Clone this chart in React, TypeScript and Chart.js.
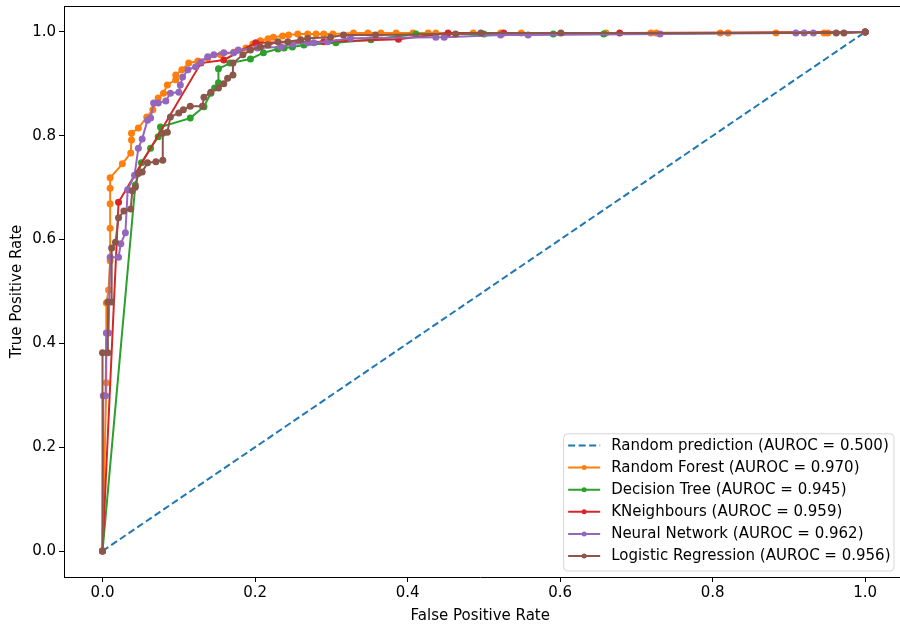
import React, { useEffect, useRef } from "react";
import { Chart, registerables } from "chart.js";

Chart.register(...registerables);

const FONT = "'DejaVu Sans', 'Liberation Sans', sans-serif";
const FONT_SIZE = 15;

// [False Positive Rate, True Positive Rate]
const randomPrediction = [[0, 0], [1, 1]];

const randomForest = [
  [0, 0], [0.005, 0.324], [0.005, 0.478], [0.008, 0.503], [0.010, 0.559], [0.010, 0.622],
  [0.010, 0.669], [0.010, 0.699], [0.010, 0.719], [0.026, 0.746], [0.037, 0.767], [0.038, 0.792],
  [0.038, 0.805], [0.047, 0.815], [0.058, 0.836], [0.066, 0.850], [0.073, 0.873], [0.080, 0.882],
  [0.085, 0.898], [0.096, 0.908], [0.096, 0.917], [0.104, 0.927], [0.113, 0.940], [0.125, 0.944],
  [0.138, 0.950], [0.155, 0.956], [0.172, 0.961], [0.188, 0.969], [0.197, 0.977], [0.207, 0.983],
  [0.217, 0.987], [0.224, 0.990], [0.236, 0.992], [0.244, 0.994], [0.256, 0.996], [0.269, 0.996],
  [0.280, 0.996], [0.290, 0.996], [0.302, 0.996], [0.329, 0.998], [0.348, 0.998], [0.365, 0.998],
  [0.385, 0.998], [0.407, 0.998], [0.427, 0.998], [0.437, 0.998], [0.486, 0.998], [0.522, 0.998],
  [0.549, 0.998], [0.660, 0.998], [0.719, 0.998], [0.726, 0.998], [0.810, 0.998], [0.820, 0.998],
  [0.883, 0.998], [0.946, 0.998], [0.951, 0.998], [1, 1],
];

const decisionTree = [
  [0, 0], [0.043, 0.705], [0.047, 0.728], [0.051, 0.748], [0.063, 0.776], [0.073, 0.798],
  [0.076, 0.817], [0.115, 0.834], [0.133, 0.856], [0.142, 0.882], [0.147, 0.892], [0.152, 0.902],
  [0.152, 0.929], [0.167, 0.940], [0.194, 0.948], [0.211, 0.960], [0.230, 0.967], [0.238, 0.969],
  [0.249, 0.971], [0.264, 0.975], [0.306, 0.979], [0.352, 0.985], [0.411, 0.996], [0.500, 0.996],
  [0.591, 0.996], [0.657, 0.996], [1, 1],
];

const kNeighbours = [
  [0, 0], [0.021, 0.672], [0.129, 0.940], [0.159, 0.946], [0.201, 0.979], [0.290, 0.981],
  [0.388, 0.986], [0.453, 0.998], [0.526, 0.998], [0.678, 0.998], [1, 1],
];

const neuralNetwork = [
  [0, 0], [0.001, 0.299], [0.004, 0.299], [0.005, 0.420], [0.008, 0.420], [0.010, 0.566],
  [0.021, 0.566], [0.024, 0.592], [0.030, 0.613], [0.033, 0.696], [0.042, 0.724], [0.047, 0.776],
  [0.052, 0.794], [0.059, 0.830], [0.063, 0.834], [0.067, 0.863], [0.073, 0.863], [0.083, 0.867],
  [0.089, 0.882], [0.100, 0.884], [0.102, 0.898], [0.105, 0.913], [0.112, 0.927], [0.122, 0.933],
  [0.129, 0.942], [0.138, 0.952], [0.146, 0.956], [0.159, 0.960], [0.172, 0.960], [0.178, 0.965],
  [0.203, 0.969], [0.234, 0.971], [0.249, 0.977], [0.269, 0.979], [0.277, 0.979], [0.295, 0.981],
  [0.325, 0.988], [0.437, 0.990], [0.448, 0.990], [0.522, 0.994], [0.558, 0.994], [0.731, 0.996],
  [0.909, 0.998], [0.920, 0.998], [0.932, 0.998], [1, 1],
];

const logisticRegression = [
  [0, 0], [0, 0.382], [0.007, 0.382], [0.007, 0.480], [0.012, 0.480], [0.012, 0.584],
  [0.017, 0.595], [0.021, 0.642], [0.028, 0.655], [0.037, 0.659], [0.039, 0.694], [0.043, 0.701],
  [0.047, 0.728], [0.052, 0.730], [0.059, 0.748], [0.070, 0.750], [0.079, 0.753], [0.079, 0.805],
  [0.085, 0.807], [0.089, 0.836], [0.100, 0.844], [0.106, 0.850], [0.115, 0.857], [0.131, 0.857],
  [0.133, 0.874], [0.142, 0.884], [0.152, 0.892], [0.159, 0.900], [0.164, 0.911], [0.171, 0.917],
  [0.171, 0.940], [0.184, 0.956], [0.194, 0.965], [0.207, 0.971], [0.217, 0.975], [0.230, 0.981],
  [0.243, 0.981], [0.260, 0.985], [0.269, 0.988], [0.299, 0.990], [0.316, 0.994], [0.358, 0.994],
  [0.463, 0.996], [0.496, 0.998], [0.601, 0.998], [0.962, 0.998], [0.972, 0.998], [1, 1],
];

const seriesLabels = [
  "Random prediction (AUROC = 0.500)",
  "Random Forest (AUROC = 0.970)",
  "Decision Tree (AUROC = 0.945)",
  "KNeighbours (AUROC = 0.959)",
  "Neural Network (AUROC = 0.962)",
  "Logistic Regression (AUROC = 0.956)",
];
const seriesColors = ["#1f77b4", "#ff7f0e", "#2ca02c", "#d62728", "#9467bd", "#8c564b"];
const seriesData = [randomPrediction, randomForest, decisionTree, kNeighbours, neuralNetwork, logisticRegression];

const xTicks = [0, 0.2, 0.4, 0.6, 0.8, 1.0];
const yTicks = [0, 0.2, 0.4, 0.6, 0.8, 1.0];

const legendPlugin = {
  id: "mplLegend",
  afterDraw(chart: any) {
    const ctx = chart.ctx as CanvasRenderingContext2D;
    const area = chart.chartArea;
    ctx.save();
    // top spine
    ctx.strokeStyle = "#000";
    ctx.lineWidth = 1;
    ctx.beginPath();
    ctx.moveTo(area.left, area.top + 0.5);
    ctx.lineTo(chart.width, area.top + 0.5);
    ctx.stroke();
    // extend bottom spine to canvas edge
    ctx.beginPath();
    ctx.moveTo(area.right, area.bottom + 0.5);
    ctx.lineTo(chart.width, area.bottom + 0.5);
    ctx.stroke();

    ctx.font = `${FONT_SIZE}px ${FONT}`;
    let maxW = 0;
    seriesLabels.forEach((t) => { maxW = Math.max(maxW, ctx.measureText(t).width); });
    const rowH = 22.1;
    const w = 48 + maxW + 3;
    const h = 12.2 + rowH * (seriesLabels.length - 1) + 14.5;
    const right = chart.width - 6.5;
    const bottom = area.bottom - 6.5;
    const x0 = right - w;
    const y0 = bottom - h;
    ctx.beginPath();
    (ctx as any).roundRect(x0 + 0.5, y0 + 0.5, w, h, 4);
    ctx.fillStyle = "rgba(255,255,255,0.8)";
    ctx.fill();
    ctx.strokeStyle = "rgba(204,204,204,0.8)";
    ctx.lineWidth = 1;
    ctx.stroke();

    seriesLabels.forEach((t, i) => {
      const cy = y0 + 12.2 + i * rowH;
      ctx.strokeStyle = seriesColors[i];
      ctx.lineWidth = 2;
      ctx.setLineDash(i === 0 ? [7, 3.5] : []);
      ctx.beginPath();
      ctx.moveTo(x0 + 5, cy);
      ctx.lineTo(x0 + 37, cy);
      ctx.stroke();
      ctx.setLineDash([]);
      if (i > 0) {
        ctx.fillStyle = seriesColors[i];
        ctx.beginPath();
        ctx.arc(x0 + 21, cy, 2.5, 0, Math.PI * 2);
        ctx.fill();
      }
      ctx.fillStyle = "#000";
      ctx.textBaseline = "middle";
      ctx.textAlign = "left";
      ctx.fillText(t, x0 + 48, cy + 0.5);
    });
    ctx.restore();
  },
};

export default function App() {
  const ref = useRef<HTMLCanvasElement | null>(null);

  useEffect(() => {
    if (!ref.current) return;
    const datasets = seriesData.map((pts, i) => ({
      label: seriesLabels[i],
      data: pts.map((p) => ({ x: p[0], y: p[1] })),
      borderColor: seriesColors[i],
      backgroundColor: seriesColors[i],
      borderWidth: 2,
      borderDash: i === 0 ? [7, 3.5] : [],
      pointRadius: i === 0 ? 0 : 3.5,
      pointHoverRadius: i === 0 ? 0 : 3.5,
      pointBorderWidth: 0,
      pointBackgroundColor: seriesColors[i],
      tension: 0,
      fill: false,
      order: seriesData.length - i,
    }));

    const tickFont = { family: FONT, size: FONT_SIZE };
    const chart = new Chart(ref.current, {
      type: "line",
      data: { datasets },
      plugins: [legendPlugin],
      options: {
        responsive: false,
        animation: false,
        devicePixelRatio: 1,
        layout: { padding: { top: 6, right: 0, left: 0, bottom: 0 } },
        plugins: { legend: { display: false }, tooltip: { enabled: false } },
        scales: {
          x: {
            type: "linear",
            min: -0.0505,
            max: 1.041,
            afterFit: (s: any) => { s.height = 49; s.paddingLeft = 0; s.paddingRight = 0; },
            afterBuildTicks: (s: any) => { s.ticks = xTicks.map((v) => ({ value: v })); },
            grid: { display: true, drawOnChartArea: false, drawTicks: true, tickLength: 5, tickColor: "#000", tickWidth: 1 },
            border: { display: true, color: "#000", width: 1 },
            ticks: {
              color: "#000", font: tickFont, padding: 2, maxRotation: 0, autoSkip: false,
              callback: (v: any) => Number(v).toFixed(1),
            },
            title: { display: true, text: "False Positive Rate", color: "#000", font: tickFont, padding: { top: 0, bottom: 1 } },
          },
          y: {
            type: "linear",
            min: -0.05,
            max: 1.05,
            afterFit: (s: any) => { s.width = 64; s.paddingTop = 0; s.paddingBottom = 0; },
            afterBuildTicks: (s: any) => { s.ticks = yTicks.map((v) => ({ value: v })); },
            grid: { display: true, drawOnChartArea: false, drawTicks: true, tickLength: 5, tickColor: "#000", tickWidth: 1 },
            border: { display: true, color: "#000", width: 1 },
            ticks: {
              color: "#000", font: tickFont, padding: 3, autoSkip: false,
              callback: (v: any) => Number(v).toFixed(1),
            },
            title: { display: true, text: "True Positive Rate", color: "#000", font: tickFont, padding: { top: 8, bottom: 0 } },
          },
        },
      } as any,
    });
    return () => chart.destroy();
  }, []);

  return (
    <div style={{ position: "fixed", left: 0, top: 0, width: 900, height: 626, background: "#fff" }}>
      <canvas ref={ref} width={900} height={626} style={{ display: "block", width: 900, height: 626 }} />
    </div>
  );
}
